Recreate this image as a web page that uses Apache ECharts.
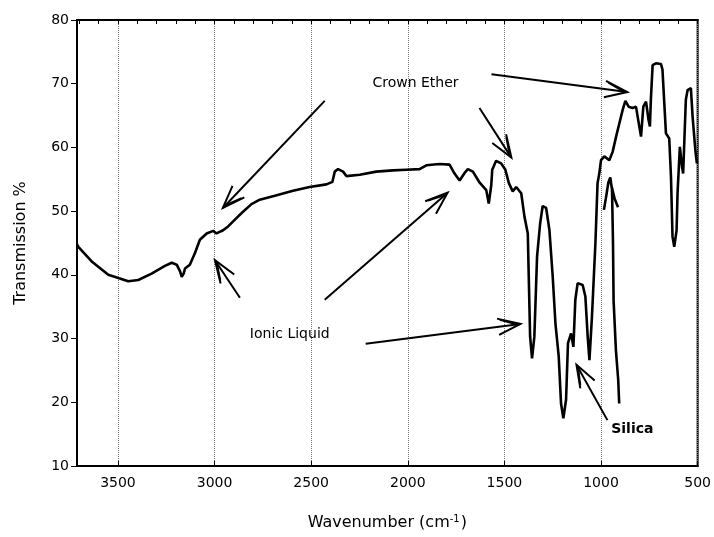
<!DOCTYPE html>
<html>
<head>
<meta charset="utf-8">
<script src="https://cdn.jsdelivr.net/npm/echarts@6/dist/echarts.min.js"></script>
<style>
  html, body { margin: 0; padding: 0; background: #fff; }
  #chart { width: 714px; height: 537px; }
</style>
</head>
<body>
<div id="chart"></div>
<script>
// FTIR spectrum: [wavenumber (cm-1), transmission %]
const spectrum = [
  [3712, 44.8], [3705, 44.4], [3636, 42.1], [3550, 40.0], [3506, 39.6], [3447, 39.0],
  [3395, 39.2], [3326, 40.2], [3257, 41.4], [3222, 41.9], [3196, 41.6], [3178, 40.5],
  [3170, 39.7], [3160, 40.2], [3153, 41.0], [3128, 41.6], [3102, 43.4], [3076, 45.5],
  [3041, 46.5], [3007, 46.9], [2990, 46.5], [2956, 47.0], [2930, 47.6], [2904, 48.4],
  [2860, 49.7], [2809, 51.1], [2766, 51.8], [2688, 52.4], [2594, 53.2], [2508, 53.8],
  [2421, 54.2], [2390, 54.6], [2378, 56.2], [2361, 56.6], [2335, 56.2], [2318, 55.5],
  [2249, 55.7], [2163, 56.2], [2077, 56.4], [2008, 56.5], [1939, 56.6], [1904, 57.2],
  [1836, 57.4], [1784, 57.3], [1758, 55.9], [1732, 54.8], [1706, 56.0], [1689, 56.6],
  [1663, 56.2], [1629, 54.5], [1594, 53.3], [1581, 51.2], [1568, 54.1], [1563, 56.5],
  [1543, 57.9], [1517, 57.5], [1495, 56.5], [1477, 54.4], [1457, 53.1], [1439, 53.8],
  [1413, 52.8], [1396, 49.1], [1379, 46.5], [1374, 39.7], [1367, 30.3], [1357, 26.9],
  [1345, 30.3], [1331, 42.9], [1315, 48.1], [1302, 50.8], [1284, 50.5], [1267, 47.0],
  [1250, 39.7], [1236, 32.4], [1219, 27.2], [1207, 19.8], [1195, 17.5], [1181, 20.4],
  [1171, 29.3], [1155, 30.8], [1143, 28.7], [1133, 36.1], [1121, 38.7], [1095, 38.4],
  [1081, 36.6], [1069, 30.3], [1060, 26.6], [1047, 33.4], [1029, 45.0], [1018, 54.4],
  [1009, 55.9], [1000, 58.0], [983, 58.6], [957, 58.0], [940, 59.3], [922, 61.7],
  [905, 63.8], [888, 65.9], [874, 67.3], [857, 66.4], [837, 66.2], [819, 66.4],
  [802, 63.3], [793, 61.7], [781, 66.4], [767, 67.2], [754, 64.3], [747, 63.3],
  [742, 67.5], [733, 72.9], [716, 73.2], [690, 73.1], [682, 72.2], [664, 62.2],
  [647, 61.4], [638, 55.4], [630, 46.0], [621, 44.4], [609, 47.0], [604, 52.8],
  [592, 60.1], [581, 57.0], [575, 55.9], [561, 67.5], [552, 69.0], [535, 69.3],
  [526, 64.8], [512, 59.6], [504, 57.5]
];

// Overlapping trace segment in the Si–O region (null breaks the stroke)
const siliconTrace = [
  [985, 50.2], [975, 52.0], [962, 54.5], [952, 55.3], [943, 53.3], [938, 45.0],
  [936, 39.0], [935, 36.0], [923, 28.2], [911, 23.5], [906, 19.8],
  null,
  [950, 54.5], [930, 52.0], [912, 50.6]
];

const xTicks = [500, 1000, 1500, 2000, 2500, 3000, 3500];
const yTicks = [10, 20, 30, 40, 50, 60, 70, 80];

// Annotation labels and arrows, positioned in [wavenumber, %T]
const labels = [
  { text: 'Crown Ether', at: [1960, 70.0], bold: false },
  { text: 'Ionic Liquid', at: [2611, 30.7], bold: false },
  { text: 'Silica', at: [838, 15.7], bold: true }
];
const arrows = [
  { from: [1567, 71.5], to: [864, 68.7] },
  { from: [1629, 66.2], to: [1464, 58.4] },
  { from: [2430, 67.3], to: [2957, 50.5] },
  { from: [2869, 36.4], to: [2998, 42.3] },
  { from: [2430, 36.1], to: [1794, 52.9] },
  { from: [2218, 29.2], to: [1417, 32.3] },
  { from: [967, 17.2], to: [1127, 25.9] }
];

const font = 'DejaVu Sans, Liberation Sans, Arial, sans-serif';
const xMin = 500, xMax = 3712;

const chart = echarts.init(document.getElementById('chart'), null, { renderer: 'canvas' });

chart.setOption({
  animation: false,
  backgroundColor: '#fff',
  grid: {
    left: 77, right: 16, top: 20, bottom: 71,
    show: true, borderColor: '#000', borderWidth: 2
  },
  xAxis: [
    {
      type: 'value', inverse: true, min: xMin, max: xMax, interval: 500,
      position: 'bottom',
      name: 'Wavenumber (cm{sup|-1})',
      nameLocation: 'middle', nameGap: 48,
      nameTextStyle: {
        fontFamily: font, fontSize: 16, color: '#000',
        rich: { sup: { fontFamily: font, fontSize: 10, color: '#000', verticalAlign: 'top', padding: [0, 1, 8, 0] } }
      },
      axisLine: { show: true, lineStyle: { color: '#000', width: 2 } },
      axisTick: { show: true, inside: true, length: 5, lineStyle: { color: '#000' } },
      axisLabel: {
        fontFamily: font, fontSize: 14, color: '#000', margin: 10,
        showMaxLabel: false,
        formatter: v => (xTicks.indexOf(v) >= 0 ? String(v) : '')
      },
      splitLine: { show: true, lineStyle: { color: '#777', type: 'dotted', width: 1 } }
    },
    {
      type: 'value', inverse: true, min: xMin, max: xMax, interval: 100,
      position: 'top',
      axisLine: { show: true, lineStyle: { color: '#000', width: 2 } },
      axisTick: { show: true, inside: true, length: 4, lineStyle: { color: '#000' } },
      axisLabel: { show: false },
      splitLine: { show: false }
    }
  ],
  yAxis: {
    type: 'value', min: 10, max: 80, interval: 10,
    name: 'Transmission %',
    nameLocation: 'middle', nameGap: 48, nameRotate: 90,
    nameTextStyle: { fontFamily: font, fontSize: 16, color: '#000' },
    axisLine: { show: true, lineStyle: { color: '#000', width: 2 } },
    axisTick: { show: true, inside: false, length: 6, lineStyle: { color: '#000' } },
    axisLabel: {
      fontFamily: font, fontSize: 14, color: '#000', margin: 8,
      formatter: v => (yTicks.indexOf(v) >= 0 ? String(v) : '')
    },
    splitLine: { show: false }
  },
  series: [
    {
      type: 'line', data: spectrum, showSymbol: false, symbol: 'none',
      lineStyle: { color: '#000', width: 2.6 }, z: 5
    },
    {
      type: 'line', data: siliconTrace, showSymbol: false, symbol: 'none',
      connectNulls: false,
      lineStyle: { color: '#000', width: 2.6 }, z: 5
    }
  ]
});

// Annotation layer: labels and open-headed arrows placed through the axis scales
function toPx(p) { return chart.convertToPixel({ seriesIndex: 0 }, p); }

const elements = [];
labels.forEach(l => {
  const p = toPx(l.at);
  elements.push({
    type: 'text', x: p[0], y: p[1], z: 20,
    style: {
      text: l.text, fill: '#000', font: (l.bold ? 'bold ' : '') + '14px ' + font,
      textAlign: 'center', textVerticalAlign: 'middle'
    }
  });
});
arrows.forEach(a => {
  const s = toPx(a.from), t = toPx(a.to);
  const dx = s[0] - t[0], dy = s[1] - t[1];
  const len = Math.hypot(dx, dy);
  const ux = dx / len, uy = dy / len;
  const barb = 24, ang = 20 * Math.PI / 180;
  const rot = (x, y, g) => [x * Math.cos(g) - y * Math.sin(g), x * Math.sin(g) + y * Math.cos(g)];
  const b1 = rot(ux, uy, ang), b2 = rot(ux, uy, -ang);
  const stroke = { stroke: '#000', lineWidth: 2, fill: null };
  elements.push({ type: 'polyline', z: 20, shape: { points: [s, t] }, style: stroke });
  elements.push({
    type: 'polyline', z: 20,
    shape: { points: [[t[0] + b1[0] * barb, t[1] + b1[1] * barb], t, [t[0] + b2[0] * barb, t[1] + b2[1] * barb]] },
    style: stroke
  });
  // inner stroke of the arrowhead
  elements.push({
    type: 'polyline', z: 20,
    shape: { points: [[t[0] + b1[0] * barb * 0.8 + ux * 2, t[1] + b1[1] * barb * 0.8 + uy * 2], [t[0] + ux * 4, t[1] + uy * 4]] },
    style: { stroke: '#000', lineWidth: 1.5, fill: null }
  });
});
chart.setOption({ graphic: { elements: elements } });
</script>
</body>
</html>
